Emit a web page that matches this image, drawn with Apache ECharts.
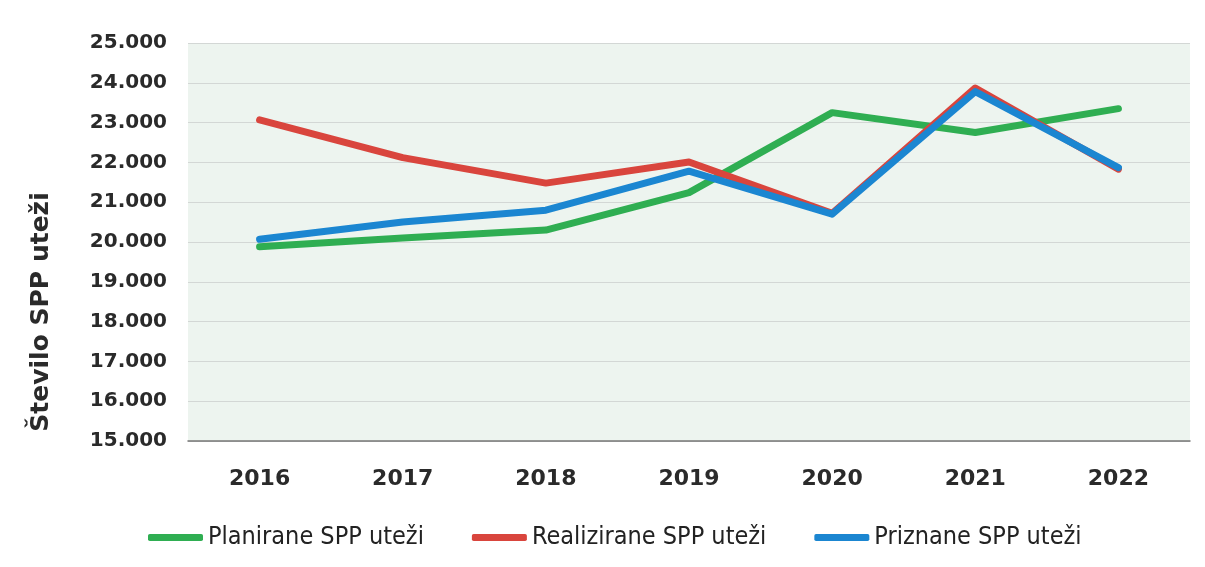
<!DOCTYPE html>
<html><head><meta charset="utf-8">
<script src="https://cdn.jsdelivr.net/npm/echarts@6/dist/echarts.min.js"></script>
<style>html,body{margin:0;padding:0;background:#fff}#c{width:1205px;height:567px}</style>
</head><body><div id="c"></div>
<script>
const categories = ['2016','2017','2018','2019','2020','2021','2022'];
const planirane = [19880, 20100, 20300, 21240, 23250, 22750, 23350];
const realizirane = [23070, 22120, 21480, 22010, 20720, 23870, 21830];
const priznane = [20070, 20500, 20800, 21780, 20700, 23780, 21870];
const seriesNames = ['Planirane SPP uteži', 'Realizirane SPP uteži', 'Priznane SPP uteži'];
const yAxisName = 'Število SPP uteži';

const colors = ['#2fae52', '#d9453d', '#1b86d1'];
const chart = echarts.init(document.getElementById('c'), null, {renderer: 'canvas'});
const mk = (name, data, color, z) => ({
  name, type: 'line', data, z,
  symbol: 'none', lineStyle: {width: 7, color, cap: 'round', join: 'round'},
  itemStyle: {color}
});
chart.setOption({
  animation: false,
  backgroundColor: '#ffffff',
  grid: {left: 188, right: 15, top: 43, bottom: 126, show: true, backgroundColor: '#edf4ef', borderWidth: 0},
  legend: {
    bottom: 12, left: 143, itemWidth: 55, itemHeight: 7, itemGap: 48,
    icon: 'roundRect',
    textStyle: {fontFamily: "'DejaVu Sans Condensed', 'Liberation Sans Narrow', 'DejaVu Sans', sans-serif", fontSize: 25, color: '#222'},
    data: seriesNames
  },
  xAxis: {
    type: 'category', data: categories, boundaryGap: true,
    axisLine: {show: true, lineStyle: {color: '#777', width: 1.5}},
    axisTick: {show: false},
    axisLabel: {margin: 27, fontFamily: 'DejaVu Sans', fontWeight: 'bold', fontSize: 22, color: '#2a2a2a'}
  },
  yAxis: {
    type: 'value', min: 15000, max: 25000, interval: 1000,
    name: yAxisName, nameLocation: 'middle', nameGap: 134, nameRotate: 90,
    nameTextStyle: {fontFamily: 'DejaVu Sans', fontWeight: 'bold', fontSize: 25, color: '#2a2a2a', padding: [0, 140, 0, 0]},
    axisLine: {show: false}, axisTick: {show: false},
    splitLine: {lineStyle: {color: '#d3d7d5', width: 1}},
    axisLabel: {margin: 21, fontFamily: 'DejaVu Sans', fontWeight: 'bold', fontSize: 20, color: '#2a2a2a',
      formatter: v => (v/1000).toFixed(3)}
  },
  series: [
    mk(seriesNames[0], planirane, colors[0], 2),
    mk(seriesNames[1], realizirane, colors[1], 3),
    mk(seriesNames[2], priznane, colors[2], 4)
  ]
});
</script></body></html>
